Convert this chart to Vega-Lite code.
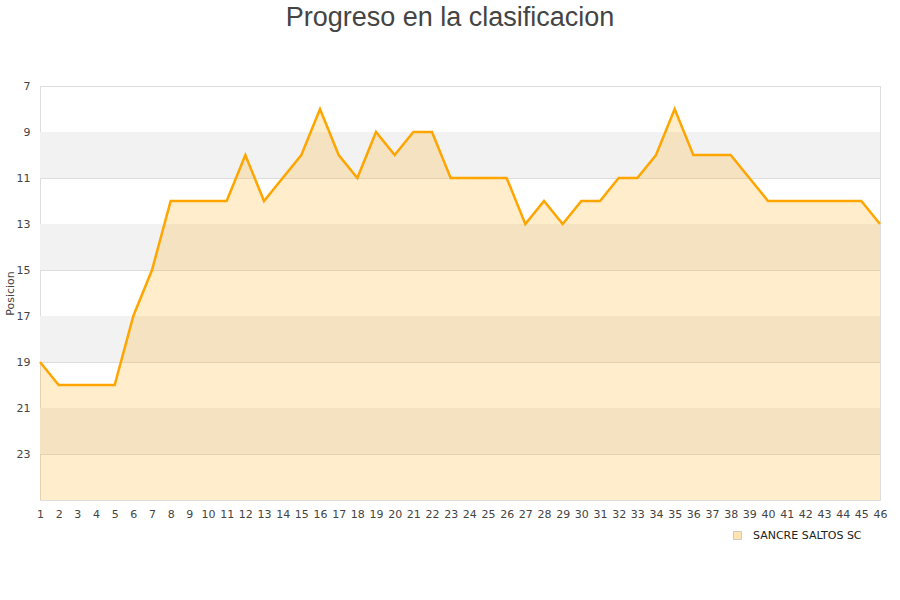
{
  "$schema": "https://vega.github.io/schema/vega-lite/v6.json",
  "autosize": "none",
  "width": 840,
  "height": 414,
  "padding": {"left": 40, "top": 86, "right": 20, "bottom": 100},
  "background": "white",
  "title": {
    "text": "Progreso en la clasificacion",
    "font": "Liberation Sans",
    "fontSize": 27,
    "fontWeight": "normal",
    "color": "#444444",
    "anchor": "middle",
    "dx": -10,
    "offset": 48
  },
  "config": {
    "view": {"stroke": "#dddddd", "strokeWidth": 1},
    "axis": {
      "labelFont": "DejaVu Sans",
      "labelFontSize": 11,
      "labelColor": "#444444",
      "titleFont": "DejaVu Sans",
      "titleFontSize": 11,
      "titleFontWeight": "normal",
      "titleColor": "#444444",
      "ticks": false,
      "domain": false
    },
    "axisX": {
      "labelOverlap": false,
      "labelFlush": false,
      "labelBound": false,
      "grid": false
    }
  },
  "datasets": {
    "bands": [
      {"y": 9, "y2": 11},
      {"y": 13, "y2": 15},
      {"y": 17, "y2": 19},
      {"y": 21, "y2": 23}
    ],
    "series": [
      {"jornada": 1, "posicion": 19, "equipo": "SANCRE SALTOS SC"},
      {"jornada": 2, "posicion": 20, "equipo": "SANCRE SALTOS SC"},
      {"jornada": 3, "posicion": 20, "equipo": "SANCRE SALTOS SC"},
      {"jornada": 4, "posicion": 20, "equipo": "SANCRE SALTOS SC"},
      {"jornada": 5, "posicion": 20, "equipo": "SANCRE SALTOS SC"},
      {"jornada": 6, "posicion": 17, "equipo": "SANCRE SALTOS SC"},
      {"jornada": 7, "posicion": 15, "equipo": "SANCRE SALTOS SC"},
      {"jornada": 8, "posicion": 12, "equipo": "SANCRE SALTOS SC"},
      {"jornada": 9, "posicion": 12, "equipo": "SANCRE SALTOS SC"},
      {"jornada": 10, "posicion": 12, "equipo": "SANCRE SALTOS SC"},
      {"jornada": 11, "posicion": 12, "equipo": "SANCRE SALTOS SC"},
      {"jornada": 12, "posicion": 10, "equipo": "SANCRE SALTOS SC"},
      {"jornada": 13, "posicion": 12, "equipo": "SANCRE SALTOS SC"},
      {"jornada": 14, "posicion": 11, "equipo": "SANCRE SALTOS SC"},
      {"jornada": 15, "posicion": 10, "equipo": "SANCRE SALTOS SC"},
      {"jornada": 16, "posicion": 8, "equipo": "SANCRE SALTOS SC"},
      {"jornada": 17, "posicion": 10, "equipo": "SANCRE SALTOS SC"},
      {"jornada": 18, "posicion": 11, "equipo": "SANCRE SALTOS SC"},
      {"jornada": 19, "posicion": 9, "equipo": "SANCRE SALTOS SC"},
      {"jornada": 20, "posicion": 10, "equipo": "SANCRE SALTOS SC"},
      {"jornada": 21, "posicion": 9, "equipo": "SANCRE SALTOS SC"},
      {"jornada": 22, "posicion": 9, "equipo": "SANCRE SALTOS SC"},
      {"jornada": 23, "posicion": 11, "equipo": "SANCRE SALTOS SC"},
      {"jornada": 24, "posicion": 11, "equipo": "SANCRE SALTOS SC"},
      {"jornada": 25, "posicion": 11, "equipo": "SANCRE SALTOS SC"},
      {"jornada": 26, "posicion": 11, "equipo": "SANCRE SALTOS SC"},
      {"jornada": 27, "posicion": 13, "equipo": "SANCRE SALTOS SC"},
      {"jornada": 28, "posicion": 12, "equipo": "SANCRE SALTOS SC"},
      {"jornada": 29, "posicion": 13, "equipo": "SANCRE SALTOS SC"},
      {"jornada": 30, "posicion": 12, "equipo": "SANCRE SALTOS SC"},
      {"jornada": 31, "posicion": 12, "equipo": "SANCRE SALTOS SC"},
      {"jornada": 32, "posicion": 11, "equipo": "SANCRE SALTOS SC"},
      {"jornada": 33, "posicion": 11, "equipo": "SANCRE SALTOS SC"},
      {"jornada": 34, "posicion": 10, "equipo": "SANCRE SALTOS SC"},
      {"jornada": 35, "posicion": 8, "equipo": "SANCRE SALTOS SC"},
      {"jornada": 36, "posicion": 10, "equipo": "SANCRE SALTOS SC"},
      {"jornada": 37, "posicion": 10, "equipo": "SANCRE SALTOS SC"},
      {"jornada": 38, "posicion": 10, "equipo": "SANCRE SALTOS SC"},
      {"jornada": 39, "posicion": 11, "equipo": "SANCRE SALTOS SC"},
      {"jornada": 40, "posicion": 12, "equipo": "SANCRE SALTOS SC"},
      {"jornada": 41, "posicion": 12, "equipo": "SANCRE SALTOS SC"},
      {"jornada": 42, "posicion": 12, "equipo": "SANCRE SALTOS SC"},
      {"jornada": 43, "posicion": 12, "equipo": "SANCRE SALTOS SC"},
      {"jornada": 44, "posicion": 12, "equipo": "SANCRE SALTOS SC"},
      {"jornada": 45, "posicion": 12, "equipo": "SANCRE SALTOS SC"},
      {"jornada": 46, "posicion": 13, "equipo": "SANCRE SALTOS SC"}
    ]
  },
  "layer": [
    {
      "data": {"name": "bands"},
      "mark": {"type": "rect", "color": "#f2f2f2"},
      "encoding": {
        "y": {
          "field": "y",
          "type": "quantitative",
          "scale": {"domain": [7, 25], "reverse": true, "nice": false, "zero": false},
          "axis": {
            "title": "Posicion",
            "values": [7, 9, 11, 13, 15, 17, 19, 21, 23],
            "tickCount": 20,
            "format": "d",
            "grid": true,
            "gridColor": "#dddddd",
            "labelPadding": 10,
            "titlePadding": 1
          }
        },
        "y2": {"field": "y2"}
      }
    },
    {
      "data": {"name": "series"},
      "mark": {"type": "area", "fillOpacity": 0.2, "interpolate": "linear"},
      "encoding": {
        "x": {
          "field": "jornada",
          "type": "quantitative",
          "scale": {"domain": [1, 46], "nice": false, "zero": false},
          "axis": {
            "title": null,
            "values": [1,2,3,4,5,6,7,8,9,10,11,12,13,14,15,16,17,18,19,20,21,22,23,24,25,26,27,28,29,30,31,32,33,34,35,36,37,38,39,40,41,42,43,44,45,46],
            "tickCount": 100,
            "format": "d",
            "labelPadding": 8,
            "labelOverlap": false
          }
        },
        "y": {"field": "posicion", "type": "quantitative"},
        "y2": {"datum": 25},
        "color": {
          "field": "equipo",
          "type": "nominal",
          "scale": {"range": ["#FFA500"]},
          "legend": {
            "title": null,
            "orient": "none",
            "legendX": 692,
            "legendY": 444,
            "symbolType": "square",
            "symbolSize": 64,
            "symbolOpacity": 0.3,
            "symbolStrokeColor": "#555555",
            "symbolStrokeWidth": 1,
            "labelOffset": 10,
            "labelFont": "DejaVu Sans",
            "labelFontSize": 11,
            "labelColor": "#222222"
          }
        }
      }
    },
    {
      "data": {"name": "series"},
      "mark": {"type": "line", "color": "#FFA500", "strokeWidth": 2.5},
      "encoding": {
        "x": {"field": "jornada", "type": "quantitative"},
        "y": {"field": "posicion", "type": "quantitative"}
      }
    }
  ]
}
